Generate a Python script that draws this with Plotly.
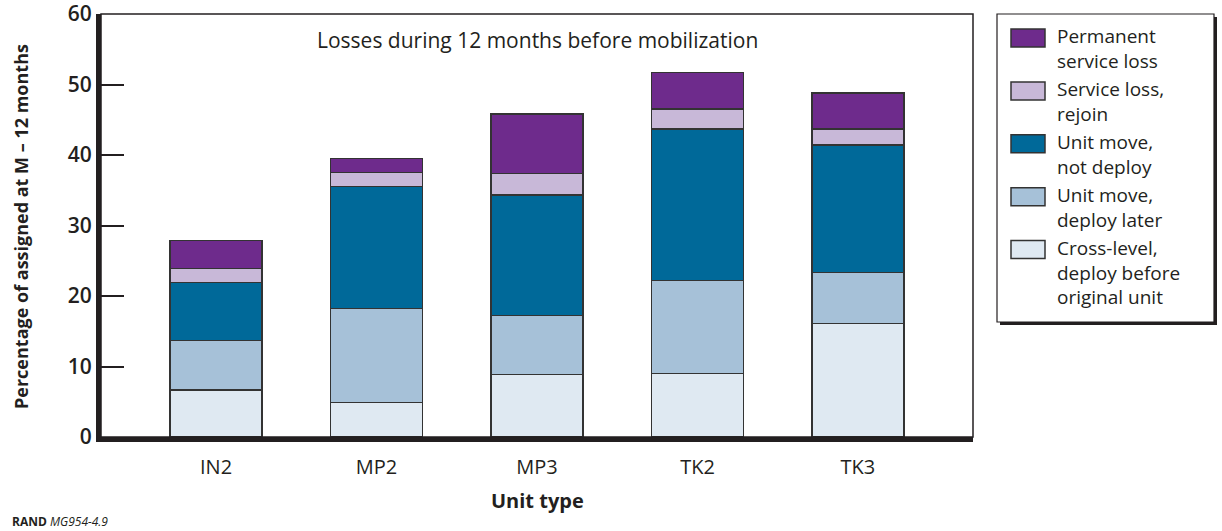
import plotly.graph_objects as go

# ==========================================
# DATA
# ==========================================
UNIT_TYPES = ["IN2", "MP2", "MP3", "TK2", "TK3"]

CROSS_LEVEL = [6.7, 4.9, 8.9, 9.0, 16.1]
MOVE_DEPLOY_LATER = [7.0, 13.3, 8.3, 13.2, 7.2]
MOVE_NOT_DEPLOY = [8.2, 17.3, 17.1, 21.5, 18.1]
SERVICE_LOSS_REJOIN = [2.0, 2.0, 3.1, 2.8, 2.3]
PERMANENT_LOSS = [4.0, 2.0, 8.4, 5.2, 5.1]

# bottom -> top stacking order
SERIES = [
    ("Cross-level,<br>deploy before<br>original unit", CROSS_LEVEL, "#dfe9f2"),
    ("Unit move,<br>deploy later", MOVE_DEPLOY_LATER, "#a6c1d8"),
    ("Unit move,<br>not deploy", MOVE_NOT_DEPLOY, "#006999"),
    ("Service loss,<br>rejoin", SERVICE_LOSS_REJOIN, "#c8b8d8"),
    ("Permanent<br>service loss", PERMANENT_LOSS, "#6e2b8c"),
]

Y_TICKS = [0, 10, 20, 30, 40, 50, 60]

# ==========================================
# LAYOUT HELPERS (pixel -> paper)
# ==========================================
W, H = 1222, 531
PL, PR, PT, PB = 101, 973, 14, 437   # plot area in pixels
FONT = "Open Sans, Noto Sans, sans-serif"
INK = "#231f20"
EDGE = "#333333"


def px(x):
    return (x - PL) / (PR - PL)


def py(y):
    return (PB - y) / (PB - PT)


def label(text, x, y, size, xanchor="center", yanchor="middle", angle=0):
    return dict(text=text, xref="paper", yref="paper", x=px(x), y=py(y),
                xanchor=xanchor, yanchor=yanchor, showarrow=False, textangle=angle,
                align="left", font=dict(family=FONT, size=size, color=INK))


fig = go.Figure()

for name, vals, color in SERIES:
    fig.add_trace(go.Bar(
        name=name.replace("<br>", " "), x=UNIT_TYPES, y=vals,
        marker=dict(color=color, line=dict(color=EDGE, width=1.5)),
        width=0.573, showlegend=False,
    ))

shapes = [
    # thin frame on top / right
    dict(type="rect", xref="paper", yref="paper", x0=0, x1=1, y0=0, y1=1,
         line=dict(color=INK, width=1.5), layer="above"),
    # legend shadow + box
    dict(type="rect", xref="paper", yref="paper",
         x0=px(1000), x1=px(1217), y0=py(325), y1=py(17),
         fillcolor=INK, line=dict(width=0), layer="below"),
    dict(type="rect", xref="paper", yref="paper",
         x0=px(997), x1=px(1214), y0=py(322), y1=py(14),
         fillcolor="white", line=dict(color=INK, width=1.2), layer="below"),
]

annotations = [
    label("Losses during 12 months before mobilization", 537, 40, 21),
    label("<b>Unit type</b>", 537, 500, 20),
    label("<b>Percentage of assigned at M – 12 months</b>", 21, 227, 18, angle=-90),
    label("<b>RAND</b> <i>MG954-4.9</i>", 10, 521, 12, xanchor="left"),
]

# manual legend (top -> bottom is reverse of stack)
sw_top = 29
for i, (name, vals, color) in enumerate(reversed(SERIES)):
    y0 = sw_top + i * 52.9
    shapes.append(dict(type="rect", xref="paper", yref="paper",
                       x0=px(1011), x1=px(1045), y0=py(y0 + 18), y1=py(y0),
                       fillcolor=color, line=dict(color=EDGE, width=1.5)))
    annotations.append(label(name, 1055, y0 - 8, 19, xanchor="left", yanchor="top"))

fig.update_layout(
    barmode="stack",
    width=W, height=H,
    margin=dict(l=PL, r=W - PR, t=PT, b=H - PB, autoexpand=False),
    plot_bgcolor="white", paper_bgcolor="white",
    font=dict(family=FONT, color=INK),
    shapes=shapes, annotations=annotations,
    showlegend=False,
)

fig.update_xaxes(
    range=[-0.717, 4.717], showgrid=False, zeroline=False, automargin=False,
    showline=True, linewidth=5, linecolor=INK, ticks="", ticklabelstandoff=8,
    tickfont=dict(family=FONT, size=20, color=INK),
)
fig.update_yaxes(
    range=[0, 60], tickvals=Y_TICKS, showgrid=False, zeroline=False, automargin=False,
    showline=True, linewidth=5, linecolor=INK, ticklabeloverflow="allow",
    ticks="inside", ticklen=23, tickwidth=1.5, tickcolor=INK,
    tickfont=dict(family=FONT, size=21, color=INK, weight=600),
)

fig.write_html("out.html", config={"displayModeBar": False},
               post_script="document.body.style.margin='0';")
